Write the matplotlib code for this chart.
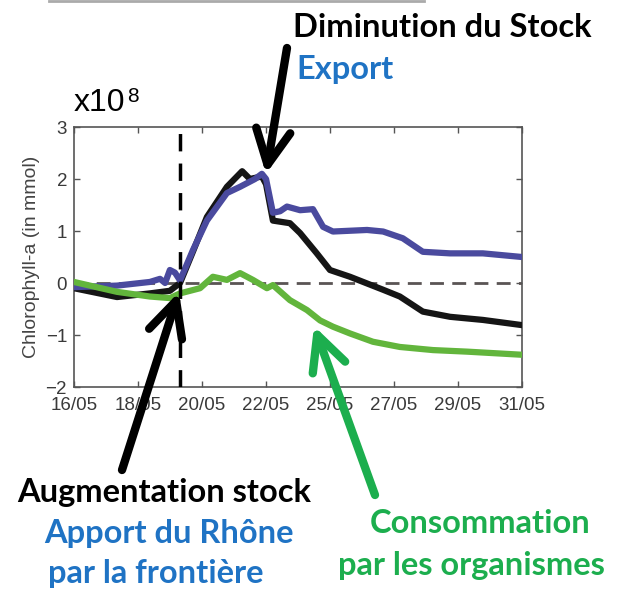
import matplotlib
matplotlib.use("Agg")
import matplotlib.pyplot as plt
import numpy as np

# day of May (x) and chlorophyll-a stock in 1e8 mmol (y)
days_export = [16.0, 17.44, 18.54, 18.88, 19.05, 19.21, 19.38, 19.55, 19.98, 20.45,
               21.12, 21.56, 22.06, 22.29, 22.43, 22.66, 22.90, 23.13, 23.57, 24.00,
               24.34, 24.67, 25.81, 26.35, 27.01, 27.68, 28.59, 29.69, 31.0]
export = [-0.08, -0.05, 0.02, 0.08, 0.0, 0.25, 0.2, 0.05, 0.63, 1.2,
          1.73, 1.85, 2.0, 2.1, 2.0, 1.35, 1.38, 1.47, 1.4, 1.42,
          1.08, 0.99, 1.02, 0.99, 0.86, 0.6, 0.57, 0.57, 0.5]

days_stock = [16.0, 17.44, 18.54, 19.21, 19.55, 19.98, 20.45, 21.12, 21.63, 21.89,
              22.29, 22.43, 22.66, 23.23, 23.57, 24.13, 24.57, 25.24, 26.35, 26.91,
              27.68, 28.59, 29.69, 31.0]
stock = [-0.1, -0.27, -0.2, -0.15, 0.0, 0.6, 1.27, 1.85, 2.15, 2.0,
         2.05, 1.9, 1.2, 1.15, 0.96, 0.57, 0.25, 0.12, -0.13, -0.26,
         -0.55, -0.65, -0.71, -0.81]

days_conso = [16.0, 17.44, 18.54, 19.21, 19.55, 20.22, 20.65, 21.12, 21.56, 21.99,
              22.46, 22.66, 23.23, 23.80, 24.24, 24.67, 25.24, 26.01, 26.91, 28.02,
              29.16, 31.0]
conso = [0.02, -0.17, -0.26, -0.29, -0.2, -0.1, 0.12, 0.06, 0.19, 0.06,
         -0.1, -0.04, -0.33, -0.52, -0.72, -0.84, -0.97, -1.13, -1.23, -1.29,
         -1.32, -1.38]

xticks = np.linspace(16, 31, 8)
xtick_labels = ["16/05", "18/05", "20/05", "22/05", "25/05", "27/05", "29/05", "31/05"]
yticks = [-2, -1, 0, 1, 2, 3]
event_day = 19.55

W, H = 621, 594
fig = plt.figure(figsize=(W / 100, H / 100), dpi=100)

ax = fig.add_axes([74 / W, 1 - 387 / H, 448 / W, 260 / H])
ax.plot(days_stock, stock, color="#151515", lw=4.5, solid_joinstyle="round", zorder=3)
ax.plot(days_export, export, color="#4a4a9e", lw=4.5, solid_joinstyle="round", zorder=4)
ax.plot(days_conso, conso, color="#62b53c", lw=4.5, solid_joinstyle="round", zorder=5)
ax.axhline(0, color="#5a5454", lw=2, ls=(0, (5, 3)), zorder=2)
ax.axvline(event_day, color="black", lw=2.5, ls=(0, (5, 3.5)), zorder=6)

ax.set_xlim(16, 31)
ax.set_ylim(-2, 3)
ax.set_xticks(xticks)
ax.set_xticklabels(xtick_labels)
ax.set_yticks(yticks)
ax.tick_params(direction="in", length=4, width=1, color="#555555",
               top=True, right=True, labelsize=13.5, labelcolor="#3a3a3a",
               pad=5)
ax.tick_params(axis="x", pad=7)
for lab in ax.get_xticklabels() + ax.get_yticklabels():
    lab.set_family("Liberation Sans")
for sp in ax.spines.values():
    sp.set_color("#555555")
    sp.set_linewidth(1.2)
ax.set_ylabel("Chlorophyll-a (in mmol)", fontsize=14, color="#444444",
              family="Liberation Sans", labelpad=4)

# overlay in pixel coordinates for the annotations
ov = fig.add_axes([0, 0, 1, 1], facecolor="none")
ov.set_xlim(0, W)
ov.set_ylim(H, 0)
ov.axis("off")

ov.plot([49, 424], [1, 1], color="#aaaaaa", lw=2)

ov.text(74, 111, "x10", fontsize=23, family="Liberation Sans", color="black")
ov.text(127, 102, "8", fontsize=15, family="Liberation Sans", color="black")

bold = dict(family="Lato", fontweight="bold")
blue = "#1f73c4"
green = "#1cae4e"
fs = 23.5
ov.text(293, 37, "Diminution du Stock", fontsize=fs, color="black", **bold)
ov.text(296, 79, "Export", fontsize=fs, color=blue, **bold)
ov.text(17, 502, "Augmentation stock", fontsize=fs, color="black", **bold)
ov.text(44, 543, "Apport du Rhône", fontsize=fs, color=blue, **bold)
ov.text(48, 583, "par la frontière", fontsize=fs, color=blue, **bold)
ov.text(370, 533, "Consommation", fontsize=fs, color=green, **bold)
ov.text(338, 575, "par les organismes", fontsize=fs, color=green, **bold)


def draw_arrow(tail, tip, color):
    ov.annotate("", xy=tip, xytext=tail,
                arrowprops=dict(arrowstyle="->,head_length=1.25,head_width=0.62",
                                lw=6, color=color, shrinkA=0, shrinkB=0,
                                mutation_scale=20, capstyle="round",
                                joinstyle="round"))


draw_arrow((287, 48), (266, 174), "black")
draw_arrow((122, 470), (179, 292), "black")
draw_arrow((375, 495), (314, 326), green)

fig.savefig("out.png", dpi=100)
